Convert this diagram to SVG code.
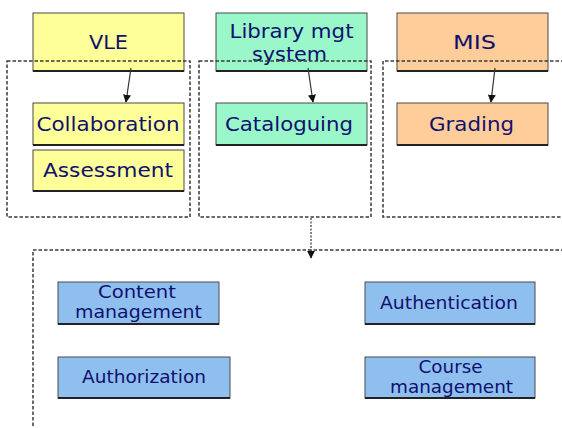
<svg xmlns="http://www.w3.org/2000/svg" width="562" height="428" viewBox="0 0 562 428">
<style>
.box{stroke:#4a4a4a;stroke-width:1}
.sh{stroke:#222;stroke-width:2}
.y{fill:#ffff99}.g{fill:#99f7c9}.o{fill:#fecd99}.b{fill:#8fbfef}
.t{font-family:"DejaVu Sans",Verdana,sans-serif;fill:#10106e;text-anchor:middle}
.big{font-size:19px}
.sm{font-size:17px}
.dash{fill:none;stroke:#3a3a3a;stroke-width:1.5;stroke-dasharray:3.5,2}
.con{fill:none;stroke:#333;stroke-width:1.2}
</style>
<defs>
<marker id="ah" viewBox="0 0 10 10" refX="9" refY="5" markerWidth="8" markerHeight="8" orient="auto" markerUnits="userSpaceOnUse">
<path d="M0,0 L10,5 L0,10 z" fill="#111"/>
</marker>
</defs>
<rect width="562" height="428" fill="#fff"/>
<g id="vle"><rect class="box y" x="33" y="13" width="151" height="58"/><line class="sh" x1="33" y1="71" x2="184" y2="71"/><text class="t big" x="108.5" y="49" textLength="39" lengthAdjust="spacingAndGlyphs">VLE</text></g>
<g id="library"><rect class="box g" x="216" y="13" width="151" height="58"/><line class="sh" x1="216" y1="71" x2="367" y2="71"/><text class="t big" x="291.5" y="38" textLength="124" lengthAdjust="spacingAndGlyphs">Library mgt</text><text class="t big" x="289.5" y="61" textLength="75" lengthAdjust="spacingAndGlyphs">system</text></g>
<g id="mis"><rect class="box o" x="397" y="13" width="151" height="58"/><line class="sh" x1="397" y1="71" x2="548" y2="71"/><text class="t big" x="474.5" y="49" textLength="43" lengthAdjust="spacingAndGlyphs">MIS</text></g>
<g id="collaboration"><rect class="box y" x="33" y="103" width="151" height="42"/><line class="sh" x1="33" y1="145" x2="184" y2="145"/><text class="t big" x="108" y="131" textLength="143" lengthAdjust="spacingAndGlyphs">Collaboration</text></g>
<g id="assessment"><rect class="box y" x="33" y="150" width="151" height="41"/><line class="sh" x1="33" y1="191" x2="184" y2="191"/><text class="t big" x="108" y="177" textLength="130" lengthAdjust="spacingAndGlyphs">Assessment</text></g>
<g id="cataloguing"><rect class="box g" x="216" y="103" width="151" height="42"/><line class="sh" x1="216" y1="145" x2="367" y2="145"/><text class="t big" x="289" y="131" textLength="128" lengthAdjust="spacingAndGlyphs">Cataloguing</text></g>
<g id="grading"><rect class="box o" x="397" y="103" width="151" height="42"/><line class="sh" x1="397" y1="145" x2="548" y2="145"/><text class="t big" x="471.5" y="131" textLength="85" lengthAdjust="spacingAndGlyphs">Grading</text></g>
<g id="content"><rect class="box b" x="58" y="282" width="161" height="42"/><line class="sh" x1="58" y1="324" x2="219" y2="324"/><text class="t sm" x="137" y="298" textLength="78" lengthAdjust="spacingAndGlyphs">Content</text><text class="t sm" x="138.5" y="318" textLength="127" lengthAdjust="spacingAndGlyphs">management</text></g>
<g id="authorization"><rect class="box b" x="58" y="357" width="172" height="41"/><line class="sh" x1="58" y1="398" x2="230" y2="398"/><text class="t sm" x="144" y="383" textLength="124" lengthAdjust="spacingAndGlyphs">Authorization</text></g>
<g id="authentication"><rect class="box b" x="365" y="282" width="170" height="42"/><line class="sh" x1="365" y1="324" x2="535" y2="324"/><text class="t sm" x="449" y="309" textLength="138" lengthAdjust="spacingAndGlyphs">Authentication</text></g>
<g id="course"><rect class="box b" x="365" y="357" width="170" height="41"/><line class="sh" x1="365" y1="398" x2="535" y2="398"/><text class="t sm" x="450.5" y="373" textLength="64" lengthAdjust="spacingAndGlyphs">Course</text><text class="t sm" x="451.5" y="393" textLength="123" lengthAdjust="spacingAndGlyphs">management</text></g>
<g id="groups">
<rect class="dash" x="7" y="61" width="183" height="156"/>
<rect class="dash" x="199" y="61" width="172" height="156"/>
<path class="dash" d="M570,61 H383 V217 H570"/>
<path class="dash" d="M570,250 H33 V440"/>
</g>
<g id="connectors">
<line class="con" x1="131" y1="68" x2="126" y2="102" marker-end="url(#ah)"/>
<line class="con" x1="308" y1="68" x2="313" y2="102" marker-end="url(#ah)"/>
<line class="con" x1="495" y1="68" x2="491" y2="102" marker-end="url(#ah)"/>
<line class="con" x1="311" y1="218" x2="311" y2="258" stroke-width="1.5" stroke-dasharray="2,1.5" marker-end="url(#ah)"/>
</g>
</svg>
